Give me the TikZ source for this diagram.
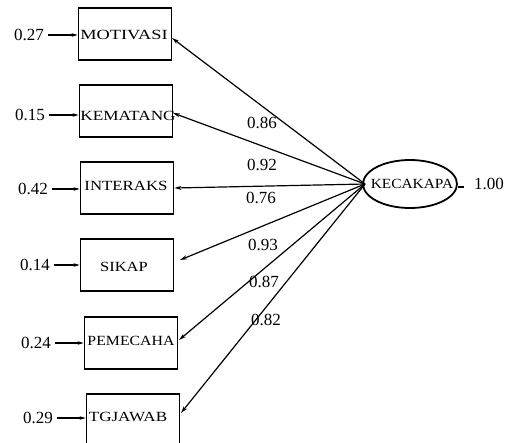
\documentclass[tikz,border=0pt]{standalone}
\usepackage{fontspec}
\setmainfont{Liberation Serif}
\usetikzlibrary{arrows.meta,shapes.geometric}
\begin{document}
\begin{tikzpicture}[x=1pt,y=-1pt,
  obs/.style={draw, line width=1.8pt, minimum width=93pt, minimum height=52pt, inner sep=0pt},
  lbl/.style={inner sep=0pt, font=\fontsize{14}{14}\selectfont},
  lat/.style={draw, ellipse, line width=1.8pt, minimum width=94pt, minimum height=48pt, inner sep=0pt},
  num/.style={font=\fontsize{17}{17}\selectfont, inner sep=1pt},
  conn/.style={line width=1.2pt, -{Stealth[length=7pt,width=4pt]}},
  err/.style={line width=1.1pt, -{Stealth[length=6pt,width=3.5pt]}}]
\useasboundingbox[fill=white] (0,0) rectangle (505,442);
% boxes
\node[obs] (m) at (125,34) {};
\node[obs] (k) at (126,111) {};
\node[obs] (i) at (127,188) {};
\node[obs] (s) at (127,265) {};
\node[obs] (p) at (131,343) {};
\node[obs] (t) at (133,420) {};
\node[lat] (kc) at (410,184) {};
% box labels
\node[lbl] (tm) at (124,35) {\scalebox{1.31}[1]{MOTIVASI}};
\node[lbl] (tk) at (128,116) {\scalebox{1.23}[1]{KEMATANG}};
\node[lbl] (ti) at (126,186) {\scalebox{1.2}[1]{INTERAKS}};
\node[lbl] (ts) at (124,267) {\scalebox{1.18}[1]{SIKAP}};
\node[lbl] (tp) at (131,341) {\scalebox{1.13}[1]{PEMECAHA}};
\node[lbl] (tt) at (128,417) {\scalebox{1.22}[1]{TGJAWAB}};
\node[lbl] (tkc) at (412,184) {\scalebox{1.1}[1]{KECAKAPA}};
\coordinate (hub) at (365,184);
% error terms
\node[num] (em) at (29,35) {0.27};
\node[num] (ek) at (30,115) {0.15};
\node[num] (ei) at (33,189) {0.42};
\node[num] (es) at (35,265) {0.14};
\node[num] (ep) at (36,343) {0.24};
\node[num] (et) at (38,418) {0.29};
\foreach \e/\b in {em/m,ek/k,ei/i,es/s,ep/p,et/t}{
  \draw[err] ([xshift=3pt]\e.east) -- (\e.east -| \b.west);
}
\node[num, anchor=west] (one) at (473,184) {1.00};
\draw[line width=1.1pt] (kc.east) ++(0,3) coordinate (d1) -- ++(6,0);
% loadings
\draw[conn] (hub) -- (172,38);
\draw[conn] (hub) -- (173,113);
\draw[conn] (hub) -- (i.east);
\draw[conn] (hub) -- (180,260);
\draw[conn] (hub) -- (179,340);
\draw[conn] (hub) -- (181,413);
\node[num] (l1) at (262,123) {0.86};
\node[num] (l2) at (262,165) {0.92};
\node[num] (l3) at (261,198) {0.76};
\node[num] (l4) at (263,245) {0.93};
\node[num] (l5) at (264,282) {0.87};
\node[num] (l6) at (266,320) {0.82};
\end{tikzpicture}
\end{document}
